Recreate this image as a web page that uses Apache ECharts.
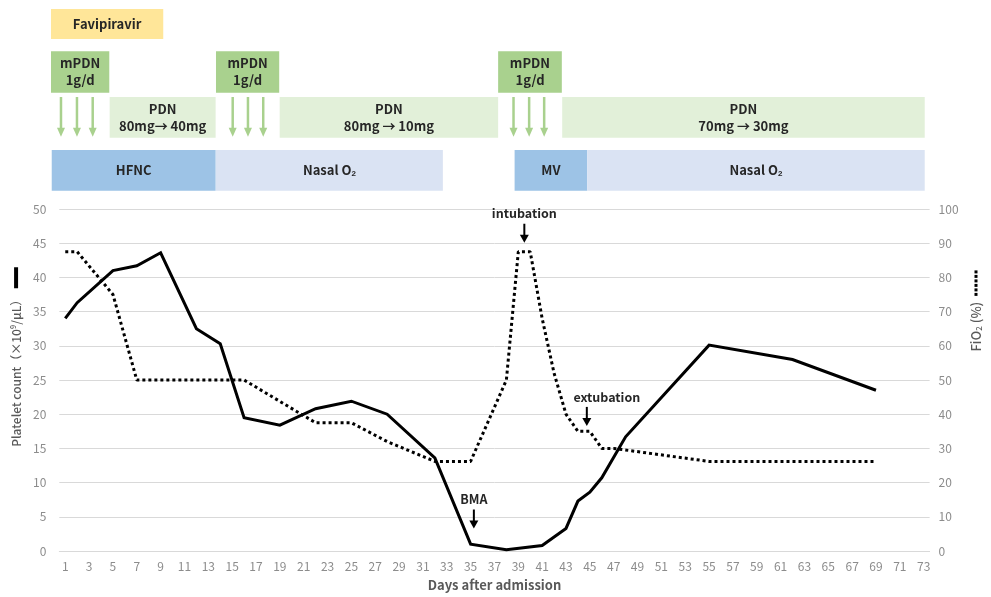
<!DOCTYPE html>
<html>
<head>
<meta charset="utf-8">
<script src="https://cdn.jsdelivr.net/npm/echarts@6/dist/echarts.min.js"></script>
<style>html,body{margin:0;padding:0;background:#fff}#c{width:991px;height:597px}</style>
</head>
<body>
<div id="c"></div>
<script>
// ---------- data ----------
const dayCategories = Array.from({length: 73}, (_, i) => String(i + 1));

const plateletDays = [1, 2, 5, 7, 9, 12, 14, 16, 19, 22, 25, 28, 32, 35, 38, 41, 43, 44, 45, 46, 48, 55, 62, 69];
const plateletValues = [34.0, 36.3, 41.0, 41.7, 43.6, 32.5, 30.3, 19.5, 18.4, 20.8, 21.9, 20.0, 13.6, 1.0, 0.2, 0.8, 3.3, 7.3, 8.6, 10.7, 16.7, 30.1, 28.0, 23.5];

const fio2Days = [1, 2, 5, 7, 16, 22, 25, 28, 32, 35, 38, 39, 40, 41, 42, 43, 44, 45, 46, 47, 55, 69];
const fio2Values = [87.5, 87.5, 75, 50, 50, 37.5, 37.5, 32, 26.2, 26.2, 50, 87.5, 87.5, 68, 52, 40, 35, 35, 30, 30, 26.2, 26.2];

const leftTicks = [0, 5, 10, 15, 20, 25, 30, 35, 40, 45, 50];
const rightTicks = [0, 10, 20, 30, 40, 50, 60, 70, 80, 90, 100];

// treatment timeline (start/end in days)
const txLabels = ['Favipiravir', 'mPDN\n1g/d', 'mPDN\n1g/d', 'mPDN\n1g/d',
  'PDN\n80mg\u2192 40mg', 'PDN\n80mg \u2192 10mg', 'PDN\n70mg \u2192 30mg',
  'HFNC', 'Nasal O{sub|2}', 'MV', 'Nasal O{sub|2}'];
const txStart = [-0.19, -0.19, 13.54, 37.02, 4.69, 18.84, 42.35, -0.13, 13.54, 38.39, 44.43];
const txEnd   = [9.15, 4.66, 18.8, 42.32, 13.51, 37.02, 72.52, 13.51, 32.42, 44.43, 72.52];
const txKind  = ['fav', 'mpdn', 'mpdn', 'mpdn', 'pdn', 'pdn', 'pdn', 'hfnc', 'nasal', 'mv', 'nasal'];

// mPDN pulse days (arrows)
const pulseDays = [0.64, 1.97, 3.28, 14.93, 16.2, 17.47, 38.3, 39.6, 40.85];

// annotations
const annLabels = ['intubation', 'extubation', 'BMA'];
const annDays = [39.2, 44.4, 35];
const annTips = [45.1, 18.5, 3.6];

// ---------- styles / layout ----------
const ROW = { fav: [9, 39], mpdn: [51.3, 92.7], pdn: [97, 137.7], hfnc: [150, 190.7], nasal: [150, 190.7], mv: [150, 190.7] };
const KIND_COLOR = { fav: '#FFE699', mpdn: '#A9D18E', pdn: '#E2F0D9', hfnc: '#9DC3E6', nasal: '#DAE3F3', mv: '#9DC3E6' };
const ANN_DX = [0, 20, 0];
const FONT = '"Noto Sans CJK JP", "Noto Sans", sans-serif';
const GRID_L = 59.3, GRID_R = 991 - 936.5;

const chart = echarts.init(document.getElementById('c'), null, { renderer: 'canvas' });

const boxData = txLabels.map((t, i) => [txStart[i], txEnd[i], i]);
const pulseData = pulseDays.map(d => [d]);
const annData = annLabels.map((t, i) => [annDays[i], annTips[i], i]);

const option = {
  backgroundColor: '#fff',
  animation: false,
  textStyle: { fontFamily: FONT },
  grid: [
    { left: GRID_L, right: GRID_R, top: 0, height: 200 },
    { left: GRID_L, right: GRID_R, top: 209, bottom: 597 - 553.3 },
    { left: GRID_L, right: GRID_R, top: 209, bottom: 597 - 553.3 }
  ],
  xAxis: [
    { gridIndex: 0, type: 'value', min: 0.5, max: 73.5, show: false },
    {
      gridIndex: 1, type: 'category', data: dayCategories, boundaryGap: true,
      axisLine: { show: true, lineStyle: { color: '#d9d9d9' } },
      axisTick: { show: false },
      axisLabel: { interval: 1, color: '#8c8c8c', fontSize: 12, margin: 9, fontFamily: FONT },
      name: 'Days after admission', nameLocation: 'middle', nameGap: 28,
      nameTextStyle: { color: '#595959', fontSize: 13, fontWeight: 'bold', fontFamily: FONT }
    },
    { gridIndex: 2, type: 'value', min: 0.5, max: 73.5, show: false }
  ],
  yAxis: [
    { gridIndex: 0, type: 'value', min: 0, max: 200, inverse: true, show: false },
    {
      gridIndex: 1, type: 'value', min: leftTicks[0], max: leftTicks[leftTicks.length - 1], interval: 5,
      position: 'left',
      axisLine: { show: false }, axisTick: { show: false },
      axisLabel: { color: '#8c8c8c', fontSize: 12, margin: 13, fontFamily: FONT },
      splitLine: { lineStyle: { color: '#d9d9d9', width: 1 } },
      name: 'Platelet count\uFF08\u00D710{sup|9}/\u03BCL\uFF09  {bar|}',
      nameLocation: 'middle', nameGap: 34, nameRotate: 90,
      nameTextStyle: {
        color: '#595959', fontSize: 12, fontWeight: 500, fontFamily: FONT,
        padding: [0, 0, 0, 46],
        rich: {
          sup: { fontSize: 7.5, color: '#595959', fontWeight: 500, verticalAlign: 'top', padding: [0, 0, 6, 0] },
          bar: { width: 21, height: 4, backgroundColor: '#000' }
        }
      }
    },
    {
      gridIndex: 1, type: 'value', min: rightTicks[0], max: rightTicks[rightTicks.length - 1], interval: 10,
      position: 'right',
      axisLine: { show: false }, axisTick: { show: false },
      axisLabel: { color: '#8c8c8c', fontSize: 12, margin: 9, fontFamily: FONT },
      splitLine: { show: false },
      name: 'FiO{sub|2} (%)  {d|}{g|}{d|}{g|}{d|}{g|}{d|}{g|}{d|}{g|}{d|}',
      nameLocation: 'middle', nameGap: 34, nameRotate: 90,
      nameTextStyle: {
        color: '#595959', fontSize: 13, fontWeight: 500, fontFamily: FONT,
        padding: [0, 0, 0, 138],
        rich: {
          sub: { fontSize: 8, color: '#595959', padding: [6, 0, 0, 0] },
          d: { width: 3, height: 3, backgroundColor: '#000' },
          g: { width: 1.5, height: 3 }
        }
      }
    },
    { gridIndex: 2, type: 'value', min: 0, max: 50, show: false }
  ],
  series: [
    {
      name: 'boxes', type: 'custom', xAxisIndex: 0, yAxisIndex: 0, clip: false,
      data: boxData,
      renderItem: function (params, api) {
        const i = api.value(2);
        const kind = txKind[i];
        const r = ROW[kind];
        const p0 = api.coord([api.value(0), r[0]]);
        const p1 = api.coord([api.value(1), r[1]]);
        return {
          type: 'rect',
          shape: { x: p0[0], y: p0[1], width: p1[0] - p0[0], height: p1[1] - p0[1] },
          style: { fill: KIND_COLOR[kind] },
          textContent: {
            style: {
              text: txLabels[i], fill: '#262626', fontSize: 13, fontWeight: 'bold',
              fontFamily: FONT, lineHeight: 17, align: 'center',
              rich: { sub: { fontSize: 8, fill: '#262626', fontWeight: 'bold', padding: [7, 0, 0, 0] } }
            }
          },
          textConfig: { position: 'inside' }
        };
      }
    },
    {
      name: 'pulses', type: 'custom', xAxisIndex: 0, yAxisIndex: 0, clip: false,
      data: pulseData,
      renderItem: function (params, api) {
        const r = ROW.pdn;
        const top = api.coord([api.value(0), r[0]]);
        const bot = api.coord([api.value(0), r[1] - 1]);
        const x = top[0];
        const hh = 9, hw = 4;
        return {
          type: 'group',
          children: [
            { type: 'line', shape: { x1: x, y1: top[1], x2: x, y2: bot[1] - hh + 1 }, style: { stroke: '#A9D18E', lineWidth: 2.5 } },
            { type: 'polygon', shape: { points: [[x - hw, bot[1] - hh], [x + hw, bot[1] - hh], [x, bot[1]]] }, style: { fill: '#A9D18E' } }
          ]
        };
      }
    },
    {
      name: 'Platelet', type: 'line', xAxisIndex: 1, yAxisIndex: 1,
      data: plateletDays.map((d, i) => [String(d), plateletValues[i]]),
      symbol: 'none', lineStyle: { color: '#000', width: 3, join: 'miter' }, z: 5
    },
    {
      name: 'FiO2', type: 'line', xAxisIndex: 1, yAxisIndex: 2,
      data: fio2Days.map((d, i) => [String(d), fio2Values[i]]),
      symbol: 'none', lineStyle: { color: '#000', width: 3, type: [3, 3], cap: 'butt' }, z: 4
    },
    {
      name: 'annotations', type: 'custom', xAxisIndex: 2, yAxisIndex: 3, clip: false, z: 6,
      data: annData,
      renderItem: function (params, api) {
        const i = api.value(2);
        const p = api.coord([api.value(0), api.value(1)]);
        const x = p[0], y = p[1];
        const len = 19, hh = 8, hw = 4.5;
        return {
          type: 'group',
          children: [
            { type: 'line', shape: { x1: x, y1: y - len, x2: x, y2: y - hh + 1 }, style: { stroke: '#000', lineWidth: 2 } },
            { type: 'polygon', shape: { points: [[x - hw, y - hh], [x + hw, y - hh], [x, y]] }, style: { fill: '#000' } },
            { type: 'text', style: { text: annLabels[i], x: x + ANN_DX[i], y: y - len - 10, align: 'center', verticalAlign: 'middle', fill: '#262626', fontSize: 12.5, fontWeight: 'bold', fontFamily: FONT } }
          ]
        };
      }
    }
  ]
};
chart.setOption(option);
</script>
</body>
</html>
